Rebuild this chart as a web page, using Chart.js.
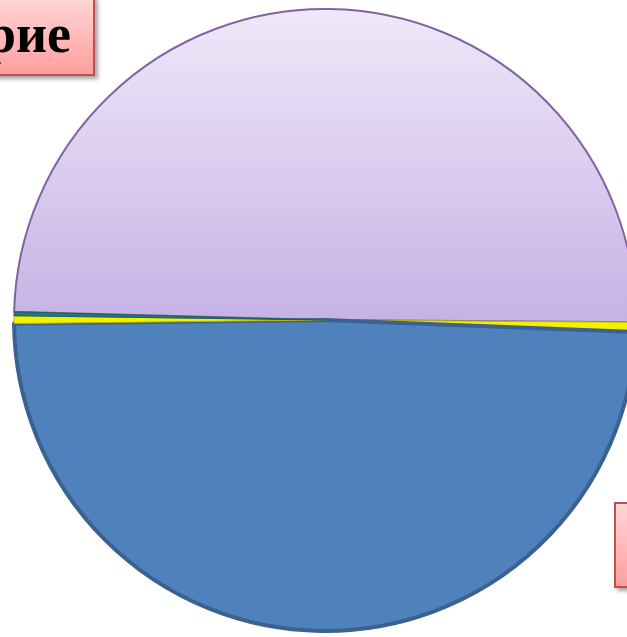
<!DOCTYPE html>
<html>
<head>
<meta charset="utf-8">
<script src="https://cdn.jsdelivr.net/npm/chart.js@4"></script>
<style>
  html, body { margin: 0; padding: 0; background: #fff; width: 627px; height: 637px; overflow: hidden; }
  #wrap { position: absolute; left: 10px; top: 5px; width: 630px; height: 630px; }
  .tag {
    position: absolute; border: 2px solid #c0504d;
    background: linear-gradient(#ffd6d6, #ff9e9e);
    box-shadow: 3px 3px 4px rgba(0,0,0,0.35);
    font: bold 54px/1 "Liberation Serif", serif; color: #000;
  }
</style>
</head>
<body>
<div id="wrap"><canvas id="pie"></canvas></div>
<div class="tag" style="left:-20px; top:-4px; width:111px; height:76px;">
  <span style="position:absolute; right:22px; top:9px;">рие</span>
</div>
<div class="tag" style="left:614px; top:502px; width:40px; height:82px;"></div>
<script>
// slices, clockwise from the left side
const labels = ['A', 'B', 'C', 'D', 'E'];
const values = [49.7, 0.5, 49.2, 0.4, 0.2];
const colors = ['lavender', '#f2f200', '#4f81bd', '#f2f200', '#1f7a7a'];
const borders = ['#8064a2', '#b8b800', '#3b6190', '#b8b800', '#1f5f5f'];

function fillFor(ctx) {
  const c = ctx.chart;
  const area = c.chartArea;
  if (!area) return '#d3c6ec';
  if (colors[ctx.dataIndex] !== 'lavender') return colors[ctx.dataIndex];
  const g = c.ctx.createLinearGradient(0, area.top, 0, area.top + area.height / 2);
  g.addColorStop(0, '#efe9f9');
  g.addColorStop(1, '#c7b2e5');
  return g;
}

new Chart(document.getElementById('pie'), {
  type: 'pie',
  data: {
    labels: labels,
    datasets: [{
      data: values,
      backgroundColor: fillFor,
      borderColor: borders,
      borderWidth: [2, 1, 4, 1, 1],
      borderJoinStyle: 'round'
    }]
  },
  options: {
    responsive: true,
    maintainAspectRatio: false,
    animation: false,
    rotation: -88.5,
    layout: { padding: 2 },
    plugins: { legend: { display: false }, tooltip: { enabled: false } }
  }
});
</script>
</body>
</html>
